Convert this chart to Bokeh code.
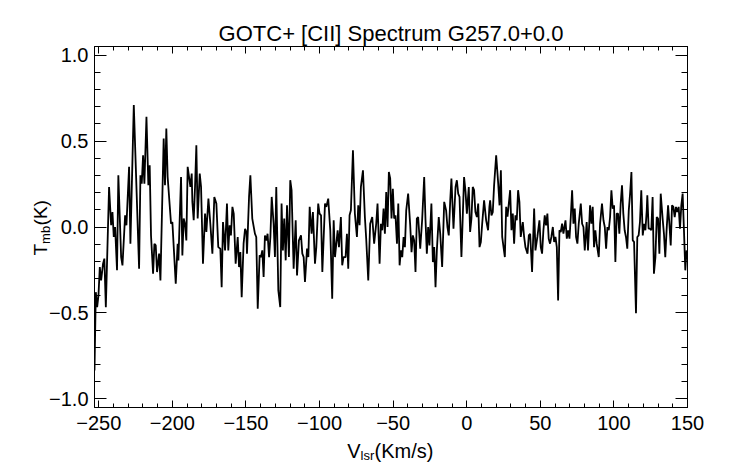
import math
from bokeh.plotting import figure
from bokeh.models import (Range1d, LinearAxis, SingleIntervalTicker,
                          CustomJSTickFormatter, ColumnDataSource)
from bokeh.core.properties import value
from bokeh.embed import file_html
from bokeh.resources import INLINE

# ---------------- data (V_lsr km/s, T_mb K) ----------------
seg_a = [(-252.9, -0.835), (-252.0, -0.379), (-251.1, -0.466), (-250.2, -0.398), (-249.3, -0.233),
         (-248.4, -0.311), (-247.1, -0.214), (-246.2, -0.184), (-245.2, -0.466), (-243.0, 0.233),
         (-241.6, 0.010), (-240.7, 0.087), (-239.8, -0.058), (-238.9, 0.0), (-237.6, -0.252),
         (-236.7, 0.301), (-234.8, -0.175), (-233.9, -0.223), (-232.1, 0.068), (-231.2, 0.010),
         (-229.4, 0.350), (-228.5, -0.097), (-226.2, 0.709), (-222.6, -0.243), (-221.7, 0.301),
         (-220.8, 0.252), (-219.9, 0.417), (-219.0, 0.252), (-217.6, 0.641), (-216.3, 0.243),
         (-215.4, 0.359), (-214.5, -0.049), (-213.1, -0.272), (-212.2, -0.097), (-211.3, -0.107),
         (-210.4, -0.262), (-209.0, -0.155), (-208.1, -0.311), (-205.9, 0.515), (-205.0, 0.243),
         (-204.1, 0.573), (-203.2, 0.291), (-200.9, 0.019), (-200.0, 0.029), (-197.7, -0.330),
         (-196.4, -0.097), (-195.9, -0.194), (-194.1, 0.291), (-193.2, -0.165), (-192.3, 0.049),
         (-191.4, 0.019), (-190.5, -0.078), (-189.6, 0.350)]
seg_b = [(-187.75, 0.233), (-186.85, 0.311), (-186.4, 0.146), (-185.5, 0.039), (-184.6, 0.233),
         (-183.7, 0.476), (-182.8, 0.049), (-181.4, 0.311), (-180.5, 0.233), (-179.2, -0.214),
         (-177.8, 0.078), (-176.9, -0.029), (-175.5, 0.165), (-174.2, 0.019), (-172.8, -0.155),
         (-171.5, 0.175), (-170.1, 0.136), (-168.8, -0.117), (-167.4, -0.126), (-166.5, -0.350),
         (-165.6, 0.029), (-164.2, -0.136), (-162.9, 0.136), (-162.0, -0.136), (-161.1, 0.010),
         (-160.2, -0.049), (-159.2, 0.117), (-158.3, 0.078), (-157.0, -0.214), (-155.6, -0.058),
         (-154.7, -0.233), (-153.8, -0.146), (-152.9, -0.408), (-151.6, -0.097), (-150.6, -0.010),
         (-149.7, -0.029), (-149.3, -0.155), (-147.9, 0.175), (-147.0, 0.301), (-145.7, 0.049),
         (-143.9, -0.039), (-143.0, -0.058), (-142.0, -0.476), (-140.7, -0.165), (-139.8, -0.175),
         (-138.9, -0.136), (-138.0, -0.291), (-137.1, -0.049), (-136.2, -0.078), (-135.3, -0.039),
         (-134.3, -0.175), (-133.4, -0.058), (-132.5, 0.175), (-131.2, 0.019), (-130.3, -0.175),
         (-129.4, 0.233), (-128.0, -0.369), (-126.7, -0.466), (-125.8, 0.136), (-124.9, -0.136),
         (-124.0, 0.049), (-123.0, -0.194), (-122.1, 0.126), (-120.8, -0.175)]
seg_c = [(-119.9, 0.272), (-119.0, 0.214), (-117.6, -0.243), (-116.2, 0.039), (-115.3, -0.282),
         (-114.0, -0.078), (-112.6, -0.049), (-111.7, -0.155), (-110.8, -0.175), (-109.9, -0.320),
         (-108.5, -0.126), (-107.6, -0.175), (-106.7, 0.117), (-105.4, -0.039), (-104.5, 0.087),
         (-103.1, -0.214), (-102.2, -0.117), (-100.9, 0.136), (-100.0, 0.078), (-99.0, 0.068),
         (-98.1, -0.262), (-96.3, 0.136), (-95.4, 0.117), (-94.1, 0.165), (-92.7, -0.019),
         (-91.4, -0.417), (-90.4, 0.039), (-89.5, -0.175), (-88.6, -0.097), (-87.7, -0.019),
         (-86.8, -0.117), (-85.5, 0.058), (-84.6, -0.223), (-83.7, -0.175), (-82.3, -0.175),
         (-81.4, -0.039), (-80.5, -0.243), (-79.6, 0.068), (-78.7, 0.097), (-77.3, 0.447),
         (-76.0, 0.078), (-74.6, -0.058), (-73.7, 0.126), (-72.8, 0.010), (-71.9, 0.233),
         (-70.5, 0.330), (-69.2, 0.058), (-68.3, -0.068), (-66.9, -0.311), (-65.6, 0.019),
         (-64.2, 0.058), (-62.9, -0.097), (-61.5, 0.019), (-60.6, 0.136), (-59.2, -0.214),
         (-58.3, 0.019), (-57.4, -0.019), (-56.5, 0.107), (-55.6, -0.039), (-54.7, 0.204),
         (-53.8, 0.0), (-52.9, 0.320)]
seg_d = [(-52.0, 0.282), (-51.1, 0.049), (-50.2, 0.223), (-49.3, 0.049), (-48.4, 0.068),
         (-47.4, -0.097), (-46.5, 0.136), (-45.6, -0.223), (-44.7, -0.136), (-43.8, -0.175),
         (-42.9, -0.058), (-42.0, -0.117), (-41.1, 0.097), (-39.8, 0.194), (-38.4, 0.010),
         (-37.5, -0.146), (-36.6, -0.049), (-35.7, -0.078), (-34.8, -0.262), (-33.9, 0.049),
         (-33.0, 0.058), (-31.6, -0.126), (-30.3, 0.039), (-28.9, 0.291), (-28.0, 0.039),
         (-27.1, -0.155), (-26.2, 0.0), (-25.3, -0.107), (-24.0, 0.136), (-23.0, -0.204),
         (-22.1, -0.117), (-21.2, -0.350), (-20.3, -0.136), (-19.0, 0.058), (-18.0, -0.039),
         (-16.7, -0.233), (-15.3, 0.146), (-14.0, 0.097), (-13.1, 0.0), (-12.2, -0.049),
         (-11.2, 0.155), (-10.4, 0.282), (-9.0, -0.010), (-7.6, 0.233), (-6.7, 0.272),
         (-5.8, 0.194), (-4.9, 0.175), (-3.6, -0.175), (-1.8, 0.291), (-0.8, 0.204),
         (0.1, 0.078), (1.4, 0.233), (2.3, -0.029), (3.2, 0.049), (4.1, 0.233),
         (5.0, 0.214), (5.9, 0.087), (6.9, 0.058), (7.8, 0.136), (8.7, -0.117),
         (9.6, -0.087), (10.5, 0.019), (11.8, 0.155), (13.2, 0.039), (14.5, -0.019),
         (15.4, 0.117)]
seg_e = [(15.9, 0.155), (16.8, 0.068), (17.7, 0.087), (18.6, 0.243), (20.0, 0.417),
         (21.4, 0.252), (22.3, 0.126), (23.2, 0.330), (24.1, -0.058), (25.0, -0.117),
         (25.9, -0.175), (26.8, 0.117), (27.7, 0.060), (28.6, 0.136), (29.5, 0.214),
         (30.4, -0.019), (31.3, 0.078), (32.2, -0.097), (33.1, 0.068), (34.0, 0.039),
         (34.9, 0.214), (35.8, 0.146), (36.7, -0.058), (38.1, 0.029), (39.0, -0.058),
         (39.9, -0.117), (41.3, -0.155), (42.2, -0.049), (43.1, -0.039), (44.4, -0.262),
         (45.8, 0.107), (46.7, -0.136), (48.0, -0.058), (49.4, 0.039), (50.3, -0.117),
         (51.2, -0.155), (52.1, -0.019), (53.0, 0.068), (53.9, 0.010), (54.8, 0.078),
         (55.7, -0.068), (56.6, -0.097), (57.5, -0.058), (58.5, 0.0), (59.4, -0.087),
         (60.3, -0.058), (61.2, -0.117), (62.1, -0.427), (63.0, -0.019), (63.9, -0.029),
         (64.8, 0.019), (65.7, -0.039), (67.1, 0.039), (68.0, -0.068), (68.9, -0.019),
         (69.8, -0.068), (70.7, 0.058), (71.6, 0.214), (72.5, 0.019), (73.4, 0.107),
         (74.3, -0.058), (75.2, -0.097), (76.1, 0.019), (77.5, 0.136), (78.4, 0.019),
         (79.3, 0.0), (80.2, -0.136), (81.5, 0.029), (82.4, -0.136)]
seg_f = [(83.8, 0.126), (84.7, 0.019), (85.6, 0.117), (86.5, -0.117), (87.4, -0.019),
         (88.3, -0.097), (89.7, -0.175), (90.6, 0.019), (91.9, 0.136), (92.9, 0.039),
         (93.8, 0.0), (94.7, -0.126), (95.6, 0.0), (96.5, -0.019), (97.4, 0.058),
         (98.3, 0.214), (99.2, 0.107), (100.1, 0.126), (101.0, -0.204), (101.9, 0.078),
         (102.8, 0.078), (103.7, -0.039), (104.6, 0.136), (105.5, 0.243), (106.4, 0.078),
         (107.3, -0.019), (108.2, -0.058), (109.1, -0.126), (110.1, 0.097), (111.0, 0.194),
         (111.9, 0.320), (112.8, -0.078), (113.7, -0.087), (115.0, -0.501), (115.9, -0.058),
         (116.8, -0.049), (117.7, 0.029), (118.6, 0.214), (119.6, -0.049), (120.5, 0.019),
         (121.4, -0.019), (122.3, 0.097), (122.7, 0.184), (123.6, -0.010), (124.5, -0.010),
         (125.4, -0.019), (126.3, 0.175), (127.2, -0.272), (128.2, -0.175), (129.1, 0.058),
         (130.0, 0.049), (130.9, -0.155), (131.8, 0.194), (133.1, 0.049), (134.0, -0.039),
         (134.9, -0.175), (135.8, -0.019), (136.8, 0.126), (137.7, 0.019), (138.6, -0.107),
         (139.5, 0.126), (140.4, 0.117), (141.3, 0.058), (142.2, 0.117), (143.1, 0.087),
         (144.0, 0.117), (144.9, -0.010), (145.8, 0.126), (146.7, 0.194), (147.6, -0.019),
         (148.5, -0.252), (149.4, -0.136)]

segments = [seg_a, seg_b, seg_c, seg_d, seg_e, seg_f]
velocity = [v for seg in segments for v, _ in seg]
tmb = [t for seg in segments for _, t in seg]

x_min, x_max = -252.9, 150.0
y_min, y_max = -1.05, 1.05
title_text = "GOTC+ [CII] Spectrum G257.0+0.0"

FONT = "Liberation Sans"
W, H = 742, 464
BL, BR, BT, BB = 94, 55, 46, 57

p = figure(width=W, height=H, output_backend="svg", toolbar_location=None,
           x_range=Range1d(x_min, x_max), y_range=Range1d(y_min, y_max),
           min_border_left=BL, min_border_right=BR, min_border_top=BT, min_border_bottom=BB,
           x_axis_type=None, y_axis_type=None)
p.background_fill_color = "white"
p.border_fill_color = "white"
p.outline_line_color = "black"
p.outline_line_width = 1
p.grid.visible = False

p.title.text = title_text
p.title.align = "center"
p.title.text_font = FONT
p.title.text_font_size = "22px"
p.title.text_font_style = "normal"
p.title.text_color = "black"
p.title.standoff = 2

x_fmt = CustomJSTickFormatter(code="return (tick < -1e-9 ? '\u2212' : '') + Math.abs(tick).toFixed(0);")
y_fmt = CustomJSTickFormatter(code="return (tick < -1e-9 ? '\u2212' : '') + Math.abs(tick).toFixed(1);")
blank = CustomJSTickFormatter(code="return '';")


def style(ax, major_in, minor_in, labels=True):
    ax.axis_line_color = "black"
    ax.major_tick_line_color = "black"
    ax.minor_tick_line_color = "black"
    ax.major_tick_in = major_in
    ax.major_tick_out = 0
    ax.minor_tick_in = minor_in
    ax.minor_tick_out = 0
    ax.major_label_text_font = FONT
    ax.major_label_text_color = "black"
    if labels:
        ax.major_label_text_font_size = "20px"
    else:
        ax.major_label_text_font_size = "0px"
        ax.major_label_standoff = 0


xb = LinearAxis(ticker=SingleIntervalTicker(interval=50, num_minor_ticks=5), formatter=x_fmt)
style(xb, 7, 4)
xb.major_label_standoff = 8
xt = LinearAxis(ticker=SingleIntervalTicker(interval=50, num_minor_ticks=5), formatter=blank)
style(xt, 7, 4, labels=False)
yl = LinearAxis(ticker=SingleIntervalTicker(interval=0.5, num_minor_ticks=5), formatter=y_fmt)
style(yl, 12, 6)
yl.major_label_standoff = 6
yr = LinearAxis(ticker=SingleIntervalTicker(interval=0.5, num_minor_ticks=5), formatter=blank)
style(yr, 12, 6, labels=False)

p.add_layout(xb, "below")
p.add_layout(xt, "above")
p.add_layout(yl, "left")
p.add_layout(yr, "right")

p.line(velocity, tmb, line_color="black", line_width=1.8)

# ---- axis titles with subscripts: text glyphs drawn above the frame clip ----
fx0, fx1, fy0, fy1 = BL, W - BR, BT, H - BB   # frame box in canvas pixels


def px_to_data(px, py):
    xd = x_min + (px - fx0) / (fx1 - fx0) * (x_max - x_min)
    yd = y_max - (py - fy0) / (fy1 - fy0) * (y_max - y_min)
    return xd, yd


def add_text(px, py, text, size, angle=0.0):
    xd, yd = px_to_data(px, py)
    src = ColumnDataSource(dict(x=[xd], y=[yd], t=[text]))
    r = p.text(x="x", y="y", text="t", source=src, angle=angle,
               text_font=value(FONT), text_font_size=value(size),
               text_align="left", text_baseline="alphabetic", text_color="black")
    r.level = "overlay"
    return r


# x-axis title: V_lsr(Km/s)
add_text(346.7, 450, "V", "20px")
add_text(360.0, 454.5, "lsr", "13px")
add_text(374.0, 450, "(Km/s)", "20px")

# y-axis title: T_mb(K)
add_text(40, 255, "T", "19px", angle=math.pi / 2)
add_text(44.5, 243.4, "mb", "13px", angle=math.pi / 2)
add_text(40, 224.9, "(K)", "19px", angle=math.pi / 2)

open("out.html", "w").write(file_html(p, INLINE))
